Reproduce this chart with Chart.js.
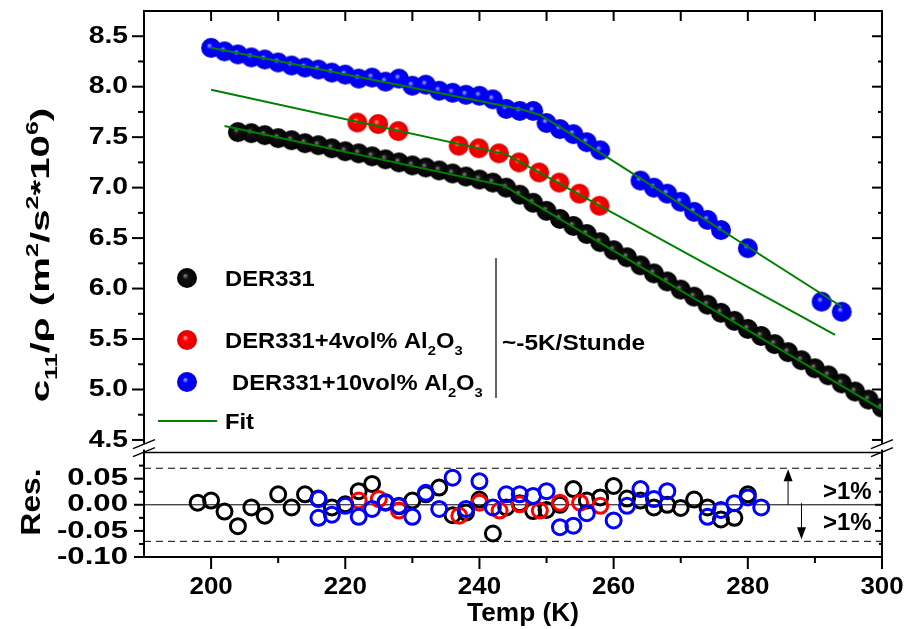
<!DOCTYPE html>
<html>
<head>
<meta charset="utf-8">
<script src="https://cdn.jsdelivr.net/npm/chart.js@4.4.1/dist/chart.umd.min.js"></script>
<style>
  html, body { margin: 0; padding: 0; background: #fff; }
</style>
</head>
<body>
<canvas id="c11Chart" width="906" height="629"></canvas>
<script>
const FONT = '"Liberation Sans", Arial, sans-serif'

// tick labels
const xTicks = [200, 220, 240, 260, 280, 300]
const c11Ticks = [4.5, 5.0, 5.5, 6.0, 6.5, 7.0, 7.5, 8.0, 8.5]
const resTicks = [-0.10, -0.05, 0.00, 0.05]

// DER331
const tempBlack = [204, 206, 208, 210, 212, 214, 216, 218, 220, 222, 224, 226, 228, 230, 232, 234, 236, 238, 240, 242,
  244, 246, 248, 250, 252, 254, 256, 258, 260, 262, 264, 266, 268, 270, 272, 274, 276, 278, 280, 282,
  284, 286, 288, 290, 292, 294, 296, 298, 300]
const c11Black = [7.55, 7.54, 7.52, 7.49, 7.47, 7.44, 7.42, 7.39, 7.36, 7.34, 7.31, 7.28, 7.25, 7.22, 7.20, 7.17, 7.14, 7.11, 7.08, 7.05,
  7.00, 6.93, 6.85, 6.77, 6.69, 6.62, 6.54, 6.46, 6.38, 6.31, 6.23, 6.15, 6.07, 5.99, 5.92, 5.84, 5.76, 5.68, 5.60, 5.53,
  5.45, 5.37, 5.29, 5.21, 5.14, 5.06, 4.98, 4.90, 4.82]

// DER331+4vol% Al2O3
const tempRed = [221.8, 224.9, 227.9, 236.9, 239.9, 242.9, 245.9, 248.9, 251.9, 254.9, 257.9]
const c11Red = [7.645, 7.63, 7.56, 7.415, 7.39, 7.34, 7.25, 7.15, 7.05, 6.94, 6.82]

// DER331+10vol% Al2O3
const tempBlue = [200, 202, 204, 206, 208, 210, 212, 214, 216, 218, 220, 222, 224, 226, 228, 230, 232, 234, 236, 238,
  240, 242, 244, 246, 248, 250, 252, 254, 256, 258, 264, 266, 268, 270, 272, 274, 276, 280, 291, 294]
const c11Blue = [8.385, 8.35, 8.32, 8.29, 8.27, 8.24, 8.21, 8.19, 8.17, 8.14, 8.12, 8.08, 8.09, 8.05, 8.08, 8.01, 8.02, 7.96, 7.94, 7.92,
  7.91, 7.875, 7.78, 7.76, 7.76, 7.64, 7.58, 7.53, 7.45, 7.37, 7.07, 7.00, 6.94, 6.86, 6.76, 6.68, 6.58, 6.40, 5.87, 5.77]

// fits
const fitTempBlack = [202, 243.6, 300]
const fitBlack = [7.61, 7.02, 4.80]
const fitTempRed = [200, 244, 293]
const fitRed = [7.97, 7.33, 5.54]
const fitTempBlue = [200, 246, 249, 252, 294]
const fitBlue = [8.385, 7.78, 7.72, 7.60, 5.82]

// residuals
const resTempBlack = [198, 200, 202, 204, 206, 208, 210, 212, 214, 216, 218, 220, 222, 224, 226, 228, 230, 232, 234, 236, 238,
  240, 242, 244, 246, 248, 250, 252, 254, 256, 258, 260, 262, 264, 266, 268, 270, 272, 274, 276, 278, 280]
const resBlack = [0.004, 0.008, -0.013, -0.041, -0.005, -0.021, 0.020, -0.005, 0.020, 0.012, -0.005, 0.001, 0.026, 0.040, 0.005, -0.003, 0.008, 0.020, 0.033, -0.020, -0.015,
  0.010, -0.055, -0.005, 0.003, -0.012, -0.010, 0.000, 0.030, 0.008, 0.014, 0.036, 0.012, 0.008, -0.005, 0.000, -0.006, 0.010, -0.005, -0.028, -0.025, 0.020]
const resTempRed = [222, 225, 228, 237, 240, 243, 246, 249, 252, 255, 258]
const resRed = [0.008, 0.011, -0.011, -0.021, 0.004, -0.011, 0.001, -0.011, 0.004, 0.004, -0.002]
const resTempBlue = [216, 216, 218, 220, 222, 224, 226, 228, 230, 232, 234, 236, 238, 240, 242, 244, 246, 248, 250, 252,
  254, 256, 260, 262, 264, 266, 268, 274, 276, 278, 280, 282]
const resBlue = [0.011, -0.025, -0.019, -0.002, -0.023, -0.008, 0.004, -0.002, -0.023, 0.023, -0.008, 0.052, -0.008, 0.045, -0.005, 0.020, 0.020, 0.017, 0.026, -0.043,
  -0.040, -0.016, -0.030, -0.002, 0.030, 0.011, 0.026, -0.023, -0.010, 0.003, 0.014, -0.005]

const resLimit = 0.07

const toXY = (xs, ys) => xs.map((x, i) => ({ x, y: ys[i] }))

function ball(base, shade, glow, r) {
  const c = document.createElement('canvas')
  c.width = c.height = r * 2 + 2
  const ctx = c.getContext('2d')
  const m = r + 1
  const g = ctx.createRadialGradient(m - r * 0.2, m - r * 0.25, 0, m, m, r)
  g.addColorStop(0, glow)
  g.addColorStop(0.3, base)
  g.addColorStop(1, shade)
  ctx.fillStyle = g
  ctx.beginPath()
  ctx.arc(m, m, r, 0, Math.PI * 2)
  ctx.fill()
  return c
}

const ballBlack = ball('#111111', '#000000', '#8c8c8c', 10)
const ballRed = ball('#ff0000', '#e00000', '#ffb4b4', 10)
const ballBlue = ball('#0000ff', '#0000dd', '#b0b0ff', 10)

// sx stretches the text along its own direction
function text(ctx, s, x, y, size, align = 'left', base = 'middle', sx = 1) {
  ctx.save()
  ctx.font = `bold ${size}px ${FONT}`
  ctx.textAlign = align
  ctx.textBaseline = base
  ctx.translate(x, y)
  ctx.scale(sx, 1)
  ctx.fillText(s, 0, 0)
  ctx.restore()
}

// runs: [text, 'sub' | 'sup' | undefined]
function richWidth(ctx, runs, size) {
  let w = 0
  for (const [t, k] of runs) {
    ctx.font = `bold ${k ? size * 0.62 : size}px ${FONT}`
    w += ctx.measureText(t).width
  }
  return w
}

function rich(ctx, runs, x, y, size, sx = 1) {
  ctx.save()
  ctx.translate(x, y)
  ctx.scale(sx, 1)
  ctx.textAlign = 'left'
  ctx.textBaseline = 'alphabetic'
  let cx = 0
  for (const [t, k] of runs) {
    ctx.font = `bold ${k ? size * 0.62 : size}px ${FONT}`
    const dy = k === 'sub' ? size * 0.32 : k === 'sup' ? -size * 0.42 : 0
    ctx.fillText(t, cx, dy)
    cx += ctx.measureText(t).width
  }
  ctx.restore()
}

function line(ctx, x0, y0, x1, y1) {
  ctx.beginPath()
  ctx.moveTo(x0, y0)
  ctx.lineTo(x1, y1)
  ctx.stroke()
}

function arrow(ctx, x, y0, y1) {
  const d = y1 < y0 ? 1 : -1
  line(ctx, x, y0, x, y1 + d * 8)
  ctx.beginPath()
  ctx.moveTo(x, y1)
  ctx.lineTo(x - 4.5, y1 + d * 12)
  ctx.lineTo(x + 4.5, y1 + d * 12)
  ctx.closePath()
  ctx.fill()
}

const decor = {
  id: 'decor',
  beforeDatasetsDraw(chart) {
    const ctx = chart.ctx
    const { left, right } = chart.chartArea
    const yr = chart.scales.yRes
    ctx.save()
    ctx.strokeStyle = '#000'
    ctx.lineWidth = 1
    line(ctx, left, yr.getPixelForValue(0), right, yr.getPixelForValue(0))
    ctx.setLineDash([7, 5])
    line(ctx, left, yr.getPixelForValue(resLimit), right, yr.getPixelForValue(resLimit))
    line(ctx, left, yr.getPixelForValue(-resLimit), right, yr.getPixelForValue(-resLimit))
    ctx.restore()
  },
  afterDraw(chart) {
    const ctx = chart.ctx
    const { left, right, top, bottom } = chart.chartArea
    const xs = chart.scales.x, yt = chart.scales.yTop, yr = chart.scales.yRes
    const mid = yr.top
    ctx.save()
    ctx.fillStyle = '#000'
    ctx.strokeStyle = '#000'

    // frame
    ctx.lineWidth = 2
    line(ctx, left - 1, top, right + 1, top)
    line(ctx, left - 1, bottom, right + 1, bottom)
    line(ctx, left, top, left, bottom + 1)
    line(ctx, right, top, right, bottom + 12)
    ctx.lineWidth = 1.5
    line(ctx, left, mid, right, mid)

    // axis breaks
    for (const ax of [left, right]) {
      ctx.fillStyle = '#fff'
      ctx.fillRect(ax - 3, mid - 9, 6, 6)
      ctx.fillStyle = '#000'
      ctx.lineWidth = 1.5
      line(ctx, ax - 11, mid - 4, ax + 11, mid - 13)
      line(ctx, ax - 11, mid + 4, ax + 11, mid - 5)
    }

    // ticks
    ctx.lineWidth = 2
    for (let i = 0; i <= 16; i++) {
      const y = yt.getPixelForValue(4.5 + i * 0.25)
      const major = i % 2 === 0
      line(ctx, left - (major ? 12 : 6), y, left, y)
      line(ctx, right - (major ? 10 : 4), y, right, y)
    }
    for (let i = 0; i <= 7; i++) {
      const y = yr.getPixelForValue(-0.1 + i * 0.025)
      const major = i % 2 === 0
      line(ctx, left - (major ? 10 : 5), y, left, y)
      if (i > 0) line(ctx, right - (major ? 7 : 3), y, right, y)
    }
    for (let t = 200; t <= 300; t += 10) {
      const x = xs.getPixelForValue(t)
      const major = t % 20 === 0
      line(ctx, x, bottom, x, bottom + (major ? 12 : 6))
      if (t < 300) line(ctx, x, top, x, top + 10)
    }

    // tick labels
    for (const v of c11Ticks) text(ctx, v.toFixed(1), left - 16, yt.getPixelForValue(v), 24, 'right', 'middle', 1.18)
    for (const v of resTicks) text(ctx, v.toFixed(2), left - 16, yr.getPixelForValue(v), 24, 'right', 'middle', 1.3)
    for (const v of xTicks) text(ctx, String(v), xs.getPixelForValue(v), 594, 24, 'center', 'alphabetic', 1.08)

    // axis titles
    text(ctx, 'Temp (K)', (left + right) / 2 + 10, 621, 25, 'center', 'alphabetic', 1.05)
    ctx.save()
    ctx.translate(32, 502)
    ctx.rotate(-Math.PI / 2)
    text(ctx, 'Res.', 0, 0, 28, 'center', 'middle', 1.13)
    ctx.restore()
    const title = [['c'], ['11', 'sub'], ['/ρ'], [' (m'], ['2', 'sup'], ['/s'], ['2', 'sup'], ['*10'], ['6', 'sup'], [')']]
    ctx.save()
    ctx.translate(49, 255)
    ctx.rotate(-Math.PI / 2)
    const sx = 1.55
    const tw = richWidth(ctx, title, 26) * sx
    rich(ctx, title, -tw / 2, 0, 26, sx)
    ctx.restore()

    // legend
    ctx.drawImage(ballBlack, 187 - 11, 278 - 11)
    ctx.drawImage(ballRed, 187 - 11, 340 - 11)
    ctx.drawImage(ballBlue, 187 - 11, 382 - 11)
    rich(ctx, [['DER331']], 225, 286, 22, 1.08)
    rich(ctx, [['DER331+4vol% Al'], ['2', 'sub'], ['O'], ['3', 'sub']], 225, 348, 22, 1.08)
    rich(ctx, [['DER331+10vol% Al'], ['2', 'sub'], ['O'], ['3', 'sub']], 232, 390, 22, 1.08)
    ctx.strokeStyle = '#008000'
    ctx.lineWidth = 2
    line(ctx, 158, 421, 217, 421)
    rich(ctx, [['Fit']], 225, 429, 22, 1.08)
    ctx.strokeStyle = '#333'
    ctx.lineWidth = 1.5
    line(ctx, 496, 258, 496, 398)
    rich(ctx, [['~-5K/Stunde']], 502, 350, 22, 1.11)

    // 1% markers
    ctx.strokeStyle = '#000'
    ctx.lineWidth = 1
    arrow(ctx, xs.getPixelForValue(286), yr.getPixelForValue(0), yr.getPixelForValue(0.068))
    arrow(ctx, xs.getPixelForValue(288), yr.getPixelForValue(0.003), yr.getPixelForValue(-0.066))
    text(ctx, '>1%', 823, yr.getPixelForValue(0.024), 24, 'left', 'middle')
    text(ctx, '>1%', 823, yr.getPixelForValue(-0.035), 24, 'left', 'middle')
    ctx.restore()
  }
}

const fitStyle = { type: 'line', yAxisID: 'yTop', borderColor: '#008000', borderWidth: 2, pointRadius: 0, showLine: true, order: 0 }
const resStyle = { yAxisID: 'yRes', pointStyle: 'circle', pointRadius: 7.5, borderWidth: 3, backgroundColor: 'rgba(0,0,0,0)' }

new Chart(document.getElementById('c11Chart'), {
  type: 'scatter',
  data: {
    datasets: [
      { ...fitStyle, label: 'Fit DER331', data: toXY(fitTempBlack, fitBlack) },
      { ...fitStyle, label: 'Fit 4vol%', data: toXY(fitTempRed, fitRed) },
      { ...fitStyle, label: 'Fit 10vol%', data: toXY(fitTempBlue, fitBlue) },
      { label: 'DER331', data: toXY(tempBlack, c11Black), yAxisID: 'yTop', pointStyle: ballBlack, pointRadius: 10, order: 3 },
      { label: 'DER331+4vol% Al2O3', data: toXY(tempRed, c11Red), yAxisID: 'yTop', pointStyle: ballRed, pointRadius: 10, order: 2 },
      { label: 'DER331+10vol% Al2O3', data: toXY(tempBlue, c11Blue), yAxisID: 'yTop', pointStyle: ballBlue, pointRadius: 10, order: 1 },
      { ...resStyle, label: 'Res DER331', data: toXY(resTempBlack, resBlack), borderColor: '#000000', order: 6 },
      { ...resStyle, label: 'Res 4vol%', data: toXY(resTempRed, resRed), borderColor: '#ff0000', order: 5 },
      { ...resStyle, label: 'Res 10vol%', data: toXY(resTempBlue, resBlue), borderColor: '#0000ff', order: 4 },
    ]
  },
  options: {
    responsive: false,
    animation: false,
    devicePixelRatio: 1,
    layout: { padding: { top: 8, right: 24, left: 0, bottom: 0 } },
    plugins: { legend: { display: false }, tooltip: { enabled: false } },
    scales: {
      x: {
        type: 'linear', min: 190, max: 300,
        grid: { display: false, drawTicks: false },
        border: { display: false },
        ticks: { display: false },
        afterFit(s) { s.height = 72 }
      },
      yTop: {
        type: 'linear', position: 'left', stack: 'panels', stackWeight: 444, weight: 1,
        min: 4.375, max: 8.75,
        grid: { display: false, drawTicks: false },
        border: { display: false },
        ticks: { display: false },
        afterFit(s) { s.width = 144 }
      },
      yRes: {
        type: 'linear', position: 'left', stack: 'panels', stackWeight: 105, weight: 0,
        min: -0.1, max: 0.1,
        grid: { display: false, drawTicks: false },
        border: { display: false },
        ticks: { display: false },
        afterFit(s) { s.width = 144 }
      }
    }
  },
  plugins: [decor]
})
</script>
</body>
</html>
